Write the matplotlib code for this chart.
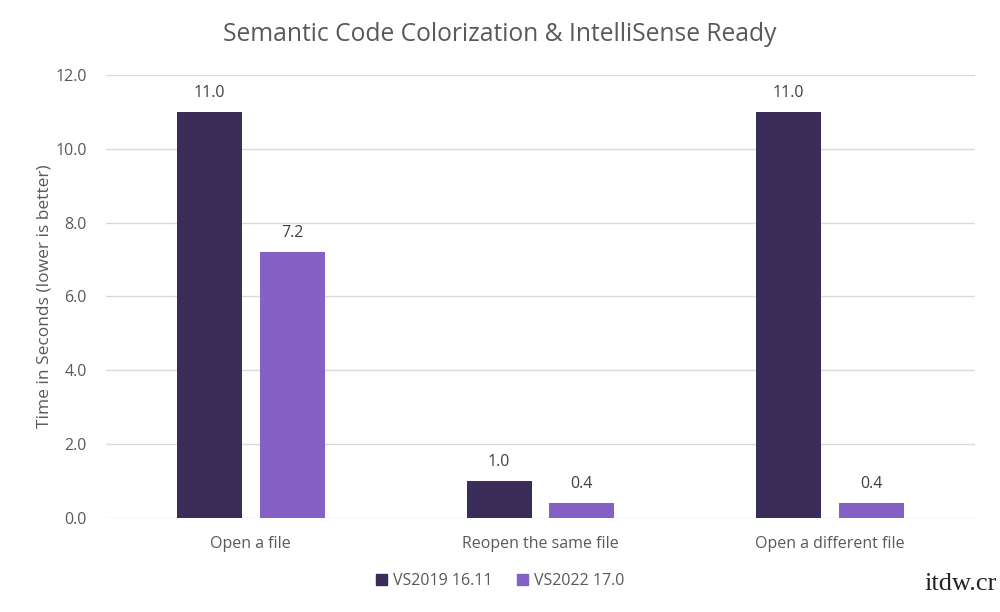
import numpy as np
import matplotlib; matplotlib.use("Agg")
import matplotlib.pyplot as plt
from matplotlib.patches import Patch

categories = ["Open a file", "Reopen the same file", "Open a different file"]
vs2019 = [11.0, 1.0, 11.0]
vs2022 = [7.2, 0.4, 0.4]
series = ["VS2019 16.11", "VS2022 17.0"]
colors = ["#3b2d5a", "#8661c5"]
yticks = [0, 2, 4, 6, 8, 10, 12]

TXT = "#595959"
plt.rcParams.update({"font.family": ["Open Sans", "DejaVu Sans"], "font.size": 11})
fig = plt.figure(figsize=(10, 6.12), dpi=100, facecolor="white")
ax = fig.add_axes([0.106, 0.1536, 0.869, 0.7239])

x = np.arange(len(categories))
w = 0.224; off = 0.143
for vals, dx, col in [(vs2019, -off, colors[0]), (vs2022, off, colors[1])]:
    bars = ax.bar(x + dx, vals, width=w, color=col, zorder=3)
    for b, v in zip(bars, vals):
        ax.text(b.get_x() + b.get_width() / 2, v + 0.3, f"{v:.1f}", ha="center", va="bottom",
                color="#404040", fontsize=11.5)

ax.set_xlim(-0.5, 2.5)
ax.set_ylim(0, 12)
ax.set_yticks(yticks)
ax.set_yticklabels([f"{t:.1f}" for t in yticks])
ax.set_xticks(x)
ax.set_xticklabels(categories, fontsize=11.5)
ax.grid(axis="y", color="#d9d9d9", lw=1, zorder=0)
for sp in ax.spines.values(): sp.set_visible(False)
ax.tick_params(length=0, colors=TXT, labelsize=11.5)
ax.tick_params(axis="y", pad=14)
ax.tick_params(axis="x", pad=13)
ax.set_ylabel("Time in Seconds (lower is better)", color=TXT, fontsize=12.5, labelpad=2)
fig.text(0.5, 0.943, "Semantic Code Colorization & IntelliSense Ready", ha="center", va="center",
         color=TXT, fontsize=17.7)

handles = [Patch(color=c, label=s) for c, s in zip(colors, series)]
fig.legend(handles=handles, loc="center", bbox_to_anchor=(0.5, 0.05), ncol=2, frameon=False,
           handlelength=0.7, handleheight=0.7, handletextpad=0.4, columnspacing=1.5,
           labelcolor=TXT, fontsize=11.5)

fig.text(0.997, 0.045, "itdw.cr", ha="right", va="center", color="#222222", fontsize=19,
         family=["Liberation Serif", "DejaVu Serif"])

plt.savefig("out.png", dpi=100, facecolor="white")
